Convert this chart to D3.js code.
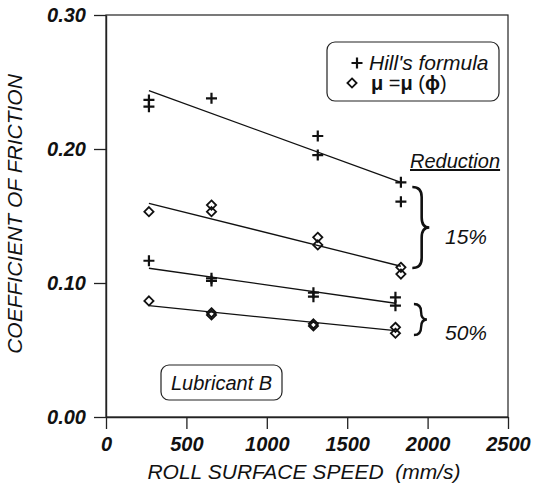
<!DOCTYPE html>
<html>
<head>
<meta charset="utf-8">
<script src="https://cdn.jsdelivr.net/npm/d3@7"></script>
<style>
  html, body { margin: 0; padding: 0; background: #fff; }
  svg { display: block; }
  text { font-family: "Liberation Sans", Arial, sans-serif; fill: #111; }
</style>
</head>
<body>
<svg id="chart" width="533" height="493"></svg>
<script>
// Roll surface speed (mm/s) and coefficient of friction, Lubricant B
const hill15Speed = [267, 267, 656, 1317, 1317, 1834, 1834];
const hill15Mu    = [0.2366, 0.2316, 0.2378, 0.2097, 0.1955, 0.1751, 0.1607];
const phi15Speed  = [267, 656, 656, 1317, 1317, 1834, 1834];
const phi15Mu     = [0.1532, 0.1582, 0.1532, 0.1341, 0.1284, 0.1117, 0.1067];
const hill50Speed = [267, 656, 656, 1290, 1290, 1800, 1800];
const hill50Mu    = [0.1166, 0.1035, 0.1015, 0.0928, 0.0898, 0.0893, 0.0831];
const phi50Speed  = [267, 656, 656, 1290, 1290, 1800, 1800];
const phi50Mu     = [0.0866, 0.0778, 0.0762, 0.0695, 0.0680, 0.0669, 0.0625];

// Fitted trend lines: [speed, mu] at each end
const hill15Fit = [[267, 0.2435], [1834, 0.1751]];
const phi15Fit  = [[267, 0.1595], [1834, 0.1125]];
const hill50Fit = [[267, 0.1110], [1800, 0.0849]];
const phi50Fit  = [[267, 0.0831], [1800, 0.0644]];

const xTicks = [0, 500, 1000, 1500, 2000, 2500];
const yTicks = [0.00, 0.10, 0.20, 0.30];

const svg = d3.select("#chart");
const plotL = 106, plotR = 508, plotT = 15, plotB = 417;

const x = d3.scaleLinear().domain([0, 2500]).range([plotL, plotR]);
const y = d3.scaleLinear().domain([0, 0.30]).range([plotB, plotT]);

// frame
svg.append("rect")
  .attr("x", plotL).attr("y", plotT)
  .attr("width", plotR - plotL).attr("height", plotB - plotT)
  .attr("fill", "none").attr("stroke", "#222").attr("stroke-width", 1.2);

// axes
const xAxis = svg.append("g").attr("transform", `translate(0,${plotB})`)
  .call(d3.axisBottom(x).tickValues(xTicks).tickFormat(d3.format("d"))
    .tickSize(12).tickSizeOuter(0).tickPadding(8));
const yAxis = svg.append("g").attr("transform", `translate(${plotL},0)`)
  .call(d3.axisLeft(y).tickValues(yTicks).tickFormat(d3.format(".2f"))
    .tickSize(12).tickSizeOuter(0).tickPadding(8));
[xAxis, yAxis].forEach(g => {
  g.select(".domain").attr("stroke", "#222").attr("stroke-width", 1.4);
  g.selectAll(".tick line").attr("stroke", "#222").attr("stroke-width", 1.3);
  g.selectAll(".tick text")
    .attr("fill", "#111")
    .style("font-size", "20px").style("font-style", "italic").style("font-weight", "bold")
    .style("font-family", "'Liberation Sans', Arial, sans-serif");
});

// axis titles
svg.append("text")
  .attr("x", (plotL + plotR) / 2 - 3).attr("y", 479)
  .attr("text-anchor", "middle")
  .style("font-size", "21px").style("font-style", "italic")
  .style("white-space", "pre")
  .text("ROLL SURFACE SPEED  (mm/s)");
svg.append("text")
  .attr("transform", "translate(22,214) rotate(-90)")
  .attr("text-anchor", "middle")
  .style("font-size", "21px").style("font-style", "italic")
  .text("COEFFICIENT OF FRICTION");

// trend lines
const line = d3.line().x(d => x(d[0])).y(d => y(d[1]));
[hill15Fit, phi15Fit, hill50Fit, phi50Fit].forEach(f => {
  svg.append("path").attr("d", line(f))
    .attr("fill", "none").attr("stroke", "#111").attr("stroke-width", 1.3);
});

// markers
function plusPath(cx, cy, s) {
  return `M${cx - s},${cy}H${cx + s}M${cx},${cy - s}V${cy + s}`;
}
function diamondPath(cx, cy, s) {
  return `M${cx},${cy - s}L${cx + s},${cy}L${cx},${cy + s}L${cx - s},${cy}Z`;
}
function drawPlus(speeds, mus) {
  svg.append("g").selectAll("path").data(d3.zip(speeds, mus)).join("path")
    .attr("d", d => plusPath(x(d[0]), y(d[1]), 5.5))
    .attr("fill", "none").attr("stroke", "#111").attr("stroke-width", 2.2);
}
function drawDiamond(speeds, mus) {
  svg.append("g").selectAll("path").data(d3.zip(speeds, mus)).join("path")
    .attr("d", d => diamondPath(x(d[0]), y(d[1]), 4.6))
    .attr("fill", "none").attr("stroke", "#111").attr("stroke-width", 1.8);
}
drawPlus(hill15Speed, hill15Mu);
drawDiamond(phi15Speed, phi15Mu);
drawPlus(hill50Speed, hill50Mu);
drawDiamond(phi50Speed, phi50Mu);

// legend
const lg = svg.append("g");
lg.append("rect").attr("x", 327).attr("y", 42).attr("width", 172).attr("height", 59)
  .attr("rx", 8).attr("fill", "#fff").attr("stroke", "#222").attr("stroke-width", 1.2);
lg.append("path").attr("d", plusPath(357, 63, 5.5))
  .attr("fill", "none").attr("stroke", "#111").attr("stroke-width", 2.2);
lg.append("text").attr("x", 369).attr("y", 70)
  .style("font-size", "21px").style("font-style", "italic").text("Hill's formula");
lg.append("path").attr("d", diamondPath(352, 83, 4.6))
  .attr("fill", "none").attr("stroke", "#111").attr("stroke-width", 1.8);
const mt = lg.append("text").attr("x", 371).attr("y", 90).style("font-size", "20px");
mt.append("tspan").style("font-weight", "bold").text("μ");
mt.append("tspan").text(" =");
mt.append("tspan").style("font-weight", "bold").text("μ");
mt.append("tspan").text(" (");
mt.append("tspan").style("font-weight", "bold").text("ϕ");
mt.append("tspan").text(")");

// reduction annotations
svg.append("text").attr("x", 410).attr("y", 168)
  .style("font-size", "20px").style("font-style", "italic")
  .style("text-decoration", "underline").text("Reduction");

function bracePath(x0, y0, y1, w) {
  const ym = (y0 + y1) / 2, q = Math.min(10, (y1 - y0) / 4), xm = x0 + w * 0.55;
  return `M${x0},${y0}Q${xm},${y0} ${xm},${y0 + q}L${xm},${ym - q}Q${xm},${ym} ${x0 + w},${ym}` +
         `Q${xm},${ym} ${xm},${ym + q}L${xm},${y1 - q}Q${xm},${y1} ${x0},${y1}`;
}
svg.append("path").attr("d", bracePath(x(1905), y(0.1716), y(0.1112), 17))
  .attr("fill", "none").attr("stroke", "#111").attr("stroke-width", 2.6);
svg.append("path").attr("d", bracePath(x(1915), y(0.0843), y(0.0612), 13))
  .attr("fill", "none").attr("stroke", "#111").attr("stroke-width", 2.4);
svg.append("text").attr("x", 445).attr("y", 244)
  .style("font-size", "21px").style("font-style", "italic").text("15%");
svg.append("text").attr("x", 445).attr("y", 340)
  .style("font-size", "21px").style("font-style", "italic").text("50%");

// lubricant label
svg.append("rect").attr("x", 161).attr("y", 365).attr("width", 121).attr("height", 35)
  .attr("rx", 8).attr("fill", "#fff").attr("stroke", "#222").attr("stroke-width", 1.2);
svg.append("text").attr("x", 221.5).attr("y", 390).attr("text-anchor", "middle")
  .style("font-size", "20px").style("font-style", "italic").text("Lubricant B");
</script>
</body>
</html>
